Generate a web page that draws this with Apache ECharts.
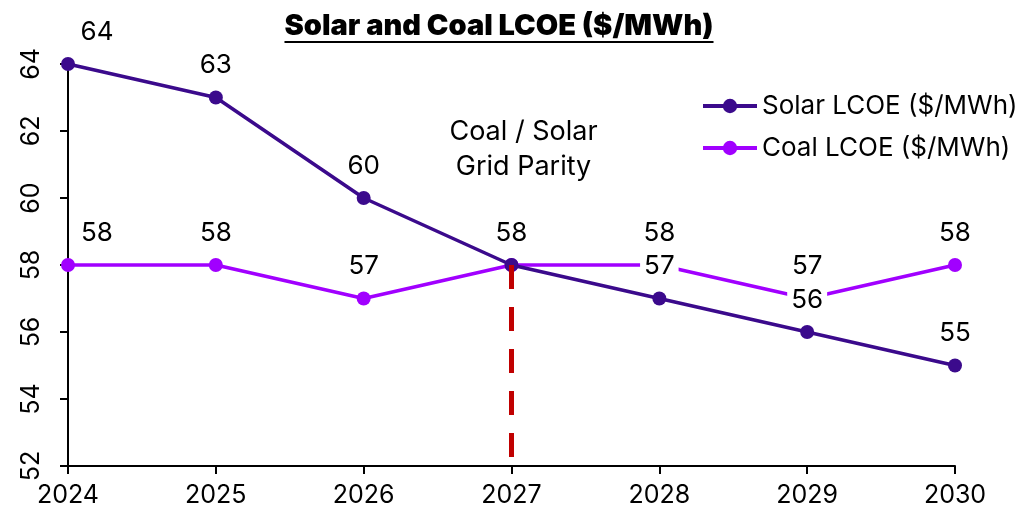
<!DOCTYPE html>
<html>
<head>
<meta charset="utf-8">
<script src="https://cdn.jsdelivr.net/npm/echarts@6/dist/echarts.min.js"></script>
<style>
  html, body { margin: 0; padding: 0; background: #fff; }
  #chart { width: 1025px; height: 512px; }
</style>
</head>
<body>
<div id="chart"></div>
<script>
  // data
  var years = ['2024', '2025', '2026', '2027', '2028', '2029', '2030'];
  var solarLcoe = [64, 63, 60, 58, 57, 56, 55];
  var coalLcoe = [58, 58, 57, 58, 58, 57, 58];
  var parityYear = '2027';
  var parityValue = 58;
  var yTicks = { min: 52, max: 64, interval: 2 };

  var FONT = 'Inter';
  var solarColor = '#3b0a8c';
  var coalColor = '#a100ff';
  var titleText = 'Solar and Coal LCOE ($/MWh)';
  var titleFont = '900 29px Inter';

  // measure title so the underline fits it
  var ctx = document.createElement('canvas').getContext('2d');
  ctx.font = titleFont;
  var titleW = ctx.measureText(titleText).width;
  var titleX = 499 - titleW / 2;

  // first label is nudged right so it does not sit on the y axis
  function withFirstOffset(arr) {
    return arr.map(function (v, i) {
      if (i === 0) return { value: v, label: { offset: [29, 0] } };
      return v;
    });
  }

  var chart = echarts.init(document.getElementById('chart'));
  chart.setOption({
    animation: false,
    textStyle: { fontFamily: FONT },
    title: {
      text: titleText,
      left: titleX,
      top: 12,
      padding: 0,
      textStyle: { fontFamily: FONT, fontSize: 29, fontWeight: 900, color: '#000' }
    },
    graphic: [{
      type: 'line',
      shape: { x1: titleX, y1: 42, x2: titleX + titleW, y2: 42 },
      style: { stroke: '#000', lineWidth: 2 }
    }],
    legend: {
      orient: 'vertical',
      left: 696,
      top: 88,
      itemWidth: 54,
      itemHeight: 18,
      itemGap: 16,
      lineStyle: { width: 4 },
      textStyle: { fontFamily: FONT, fontSize: 26, color: '#000' },
      data: ['Solar LCOE ($/MWh)', 'Coal LCOE ($/MWh)']
    },
    grid: { left: 68, right: 70, top: 64, bottom: 46, containLabel: false },
    xAxis: {
      type: 'category',
      boundaryGap: false,
      data: years,
      axisLine: { lineStyle: { color: '#000', width: 2 } },
      axisTick: { show: true, length: 8, alignWithLabel: true, lineStyle: { color: '#000', width: 2 } },
      axisLabel: { color: '#000', fontSize: 25, margin: 17, fontFamily: FONT },
      splitLine: { show: false }
    },
    yAxis: {
      type: 'value',
      min: yTicks.min,
      max: yTicks.max,
      interval: yTicks.interval,
      axisLine: { show: true, lineStyle: { color: '#000', width: 2 } },
      axisTick: { show: true, length: 8, lineStyle: { color: '#000', width: 2 } },
      axisLabel: { color: '#000', fontSize: 25, rotate: 90, margin: 24, fontFamily: FONT },
      splitLine: { show: false }
    },
    series: [
      {
        name: 'Solar LCOE ($/MWh)',
        type: 'line',
        z: 4,
        data: withFirstOffset(solarLcoe),
        color: solarColor,
        symbol: 'circle',
        symbolSize: 14,
        lineStyle: { width: 3.5, color: solarColor },
        itemStyle: { color: solarColor },
        label: {
          show: true,
          position: 'top',
          distance: 11,
          color: '#000',
          fontSize: 26,
          fontFamily: FONT,
          backgroundColor: '#fff',
          padding: [1, 4]
        },
        markPoint: {
          symbol: 'circle',
          symbolSize: 0,
          silent: true,
          label: {
            show: true,
            formatter: 'Coal / Solar\nGrid Parity',
            color: '#000',
            fontSize: 27,
            lineHeight: 35,
            fontFamily: FONT,
            offset: [12, 0]
          },
          data: [{ coord: [parityYear, 61.45] }]
        }
      },
      {
        name: 'Coal LCOE ($/MWh)',
        type: 'line',
        z: 3,
        data: withFirstOffset(coalLcoe),
        color: coalColor,
        symbol: 'circle',
        symbolSize: 14,
        lineStyle: { width: 3.5, color: coalColor },
        itemStyle: { color: coalColor },
        label: {
          show: true,
          position: 'top',
          distance: 11,
          color: '#000',
          fontSize: 26,
          fontFamily: FONT,
          padding: [1, 4]
        },
        markLine: {
          silent: true,
          symbol: 'none',
          label: { show: false },
          lineStyle: { color: '#c00000', width: 5, type: [24, 18] },
          data: [[{ coord: [parityYear, parityValue] }, { coord: [parityYear, yTicks.min] }]]
        }
      }
    ]
  });
</script>
</body>
</html>
